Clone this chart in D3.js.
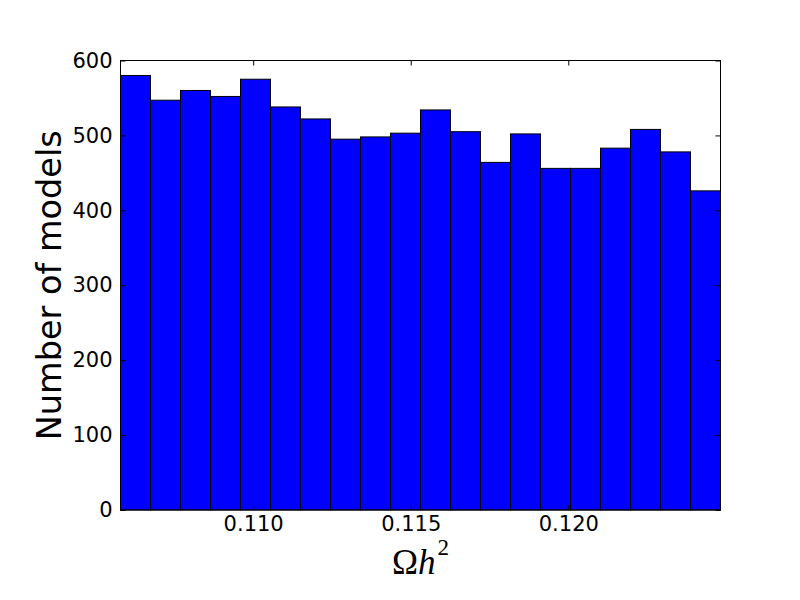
<!DOCTYPE html>
<html>
<head>
<meta charset="utf-8">
<script src="https://cdnjs.cloudflare.com/ajax/libs/d3/7.8.5/d3.min.js"></script>
<style>
  body { margin: 0; background: white; }
  text { font-family: "DejaVu Sans", sans-serif; fill: black; }
</style>
</head>
<body>
<div id="chart"></div>
<script>
// histogram bins of Omega h^2
var binStart = 0.10579;
var binWidth = 0.000952;
var counts = [580, 547, 560, 552, 575, 538, 522, 495, 498, 503,
              534, 505, 464, 502, 456, 456, 483, 508, 478, 426];
var xTicks = [0.110, 0.115, 0.120];
var yTicks = [0, 100, 200, 300, 400, 500, 600];

var margin = {left: 120.5, right: 79.5, top: 60.5, bottom: 90};
var width = 800 - margin.left - margin.right;
var height = 600 - margin.top - margin.bottom;

var bins = counts.map(function(c, i) {
  return {x0: binStart + i * binWidth, x1: binStart + (i + 1) * binWidth, n: c};
});

var x = d3.scaleLinear()
    .domain([binStart, binStart + counts.length * binWidth])
    .range([0, width]);
var y = d3.scaleLinear().domain([0, 600]).range([height, 0]);

var svg = d3.select("#chart").append("svg")
    .attr("width", 800)
    .attr("height", 600)
  .append("g")
    .attr("transform", "translate(" + margin.left + "," + margin.top + ")");

// bars
svg.selectAll(".bar")
    .data(bins)
  .enter().append("rect")
    .attr("class", "bar")
    .attr("x", function(d) { return x(d.x0); })
    .attr("y", function(d) { return y(d.n); })
    .attr("width", function(d) { return x(d.x1) - x(d.x0); })
    .attr("height", function(d) { return height - y(d.n); })
    .style("fill", "#0000ff")
    .style("stroke", "black")
    .style("stroke-width", 1);

// frame
svg.append("rect")
    .attr("width", width)
    .attr("height", height)
    .style("fill", "none")
    .style("stroke", "black")
    .style("stroke-width", 1);

// axes with inward ticks
var tickLen = 5;
svg.append("g")
    .attr("class", "axis")
    .attr("transform", "translate(0," + height + ")")
    .call(d3.axisBottom(x).tickValues(xTicks).tickFormat(d3.format(".3f"))
        .tickSizeInner(-tickLen).tickSizeOuter(0).tickPadding(6));
svg.append("g")
    .attr("class", "axis")
    .call(d3.axisTop(x).tickValues(xTicks).tickFormat("")
        .tickSizeInner(-tickLen).tickSizeOuter(0));
svg.append("g")
    .attr("class", "axis")
    .call(d3.axisLeft(y).tickValues(yTicks).tickFormat(d3.format("d"))
        .tickSizeInner(-tickLen).tickSizeOuter(0).tickPadding(8));
svg.append("g")
    .attr("class", "axis")
    .attr("transform", "translate(" + width + ",0)")
    .call(d3.axisRight(y).tickValues(yTicks).tickFormat("")
        .tickSizeInner(-tickLen).tickSizeOuter(0));

svg.selectAll(".axis path").remove();
svg.selectAll(".axis line").style("stroke", "black").style("stroke-width", 1);
svg.selectAll(".axis text")
    .style("font-family", "DejaVu Sans, sans-serif")
    .style("font-size", "21px")
    .style("fill", "black");

// y label
svg.append("text")
    .attr("transform", "rotate(-90)")
    .attr("x", -height / 2)
    .attr("y", -60)
    .style("text-anchor", "middle")
    .style("font-size", "33.5px")
    .text("Number of models");

// x label
var xl = svg.append("text")
    .attr("x", width / 2)
    .attr("y", height + 64)
    .style("text-anchor", "middle")
    .style("font-family", "Liberation Serif, serif")
    .style("font-size", "35px");
xl.append("tspan").text("Ω");
xl.append("tspan").style("font-style", "italic").text("h");
xl.append("tspan").attr("dy", -19).attr("dx", 2).style("font-size", "23px").text("2");
</script>
</body>
</html>
